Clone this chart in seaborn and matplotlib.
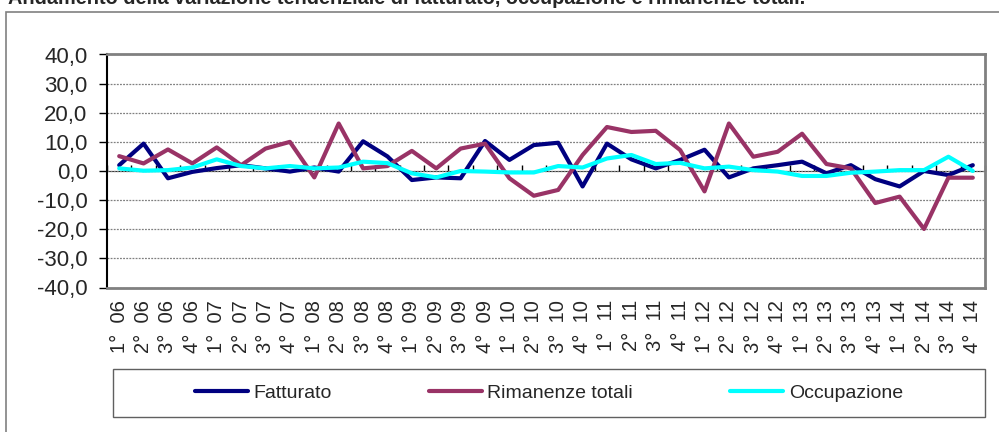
import numpy as np
import pandas as pd
import matplotlib
matplotlib.use("Agg")
import matplotlib.pyplot as plt
from matplotlib.patches import Rectangle
from matplotlib.ticker import FuncFormatter, FixedLocator
import seaborn as sns

quarters = ["1° 06", "2° 06", "3° 06", "4° 06", "1° 07", "2° 07", "3° 07", "4° 07",
            "1° 08", "2° 08", "3° 08", "4° 08", "1° 09", "2° 09", "3° 09", "4° 09",
            "1° 10", "2° 10", "3° 10", "4° 10", "1° 11", "2° 11", "3° 11", "4° 11",
            "1° 12", "2° 12", "3° 12", "4° 12", "1° 13", "2° 13", "3° 13", "4° 13",
            "1° 14", "2° 14", "3° 14", "4° 14"]

fatturato = [2.0, 9.4, -2.5, -0.3, 1.0, 2.0, 0.9, -0.2, 1.2, -0.2, 10.2, 5.0,
             -3.1, -2.2, -2.5, 10.3, 3.8, 8.9, 9.7, -5.3, 9.4, 4.0, 0.9, 3.8,
             7.3, -2.2, 0.9, 2.0, 3.2, -0.8, 2.0, -2.8, -5.3, 0.0, -1.4, 2.0]

rimanenze = [5.1, 2.6, 7.4, 2.6, 8.1, 2.0, 7.7, 10.0, -2.2, 16.3, 0.9, 1.7,
             6.9, 0.9, 7.7, 9.4, -2.5, -8.5, -6.5, 5.5, 15.1, 13.4, 13.8, 7.2,
             -7.0, 16.3, 4.9, 6.6, 12.8, 2.4, 0.9, -11.0, -8.8, -19.9, -2.3, -2.3]

occupazione = [0.9, 0.1, 0.3, 1.2, 4.0, 1.7, 0.9, 1.7, 0.9, 1.2, 3.2, 2.7,
               -0.8, -2.2, 0.0, -0.2, -0.5, -0.5, 1.7, 1.2, 4.3, 5.5, 2.4, 2.8,
               0.9, 1.5, 0.3, -0.2, -1.7, -1.7, -0.6, -0.2, 0.3, 0.3, 4.9, 0.0]

series_names = ["Fatturato", "Rimanenze totali", "Occupazione"]
colors = ["#000080", "#993366", "#00FFFF"]
y_ticks = [-40, -30, -20, -10, 0, 10, 20, 30, 40]

sns.set_style("white")
plt.rcParams["font.family"] = ["Liberation Sans", "DejaVu Sans"]

n = len(quarters)
df = pd.DataFrame({
    "pos": list(range(n)) * 3,
    "value": fatturato + rimanenze + occupazione,
    "serie": [series_names[0]] * n + [series_names[1]] * n + [series_names[2]] * n,
})

W, H = 999, 432
fig = plt.figure(figsize=(W / 100, H / 100), dpi=100)
ax = fig.add_axes([107 / W, 1 - 287.5 / H, (985 - 107) / W, (287.5 - 54.5) / H])

sns.lineplot(data=df, x="pos", y="value", hue="serie", hue_order=series_names,
             palette=colors, linewidth=3.0, ax=ax, legend=False, sort=False,
             solid_capstyle="round")

ax.set_xlim(-0.5, n - 0.5)
ax.set_ylim(-40, 40)
ax.set_xlabel("")
ax.set_ylabel("")

ax.yaxis.set_major_locator(FixedLocator(y_ticks))
ax.yaxis.set_major_formatter(FuncFormatter(lambda v, p: f"{v:.1f}".replace(".", ",")))
ax.tick_params(axis="y", left=True, length=6, width=1, color="black",
               labelsize=16, pad=8, direction="out")
ax.set_xticks(range(n))
ax.set_xticklabels([q.replace(" ", "  ") for q in quarters], rotation=90, fontsize=14.5)
ax.tick_params(axis="x", length=0, pad=9)

ax.grid(axis="y", linestyle=(0, (1.5, 1)), color="#808080", linewidth=0.9)
ax.grid(axis="x", visible=False)

for side in ["top", "right", "bottom"]:
    ax.spines[side].set_visible(True)
    ax.spines[side].set_color("#808080")
    ax.spines[side].set_linewidth(2)
ax.spines["left"].set_color("black")
ax.spines["left"].set_linewidth(1.5)

# zero axis with category boundary ticks
sec = ax.secondary_xaxis(0.5)
sec.set_xticks(np.arange(-0.5, n, 1.0))
sec.set_xticklabels([])
sec.tick_params(axis="x", length=4, width=1, color="black", direction="out")
sec.spines["bottom"].set_color("black")
sec.spines["bottom"].set_linewidth(1.2)
ax.set_zorder(1)

# outer chart border
fig.patches.append(Rectangle((6 / W, -0.05), 1.1, 1 - 12 / H + 0.05, transform=fig.transFigure,
                             fill=False, edgecolor="#808080", linewidth=1.2))

# title (partly cut off at top, as in the reference)
fig.text(8 / W, 1 - 4.5 / H,
         "Andamento della variazione tendenziale di fatturato, occupazione e rimanenze totali.",
         fontsize=14.3, fontweight="bold", ha="left", va="baseline")

# legend box
lx0, lx1, ly0, ly1 = 113, 985, 369, 417
fig.patches.append(Rectangle((lx0 / W, 1 - ly1 / H), (lx1 - lx0) / W, (ly1 - ly0) / H,
                             transform=fig.transFigure, fill=False,
                             edgecolor="#606060", linewidth=1.0))
handles = [plt.Line2D([], [], color=c, linewidth=3.0, solid_capstyle="round") for c in colors]
fig.legend(handles, series_names, loc="center",
           bbox_to_anchor=((lx0 + lx1) / 2 / W, 1 - (ly0 + ly1) / 2 / H),
           ncol=3, frameon=False, fontsize=14, handlelength=2.7,
           handletextpad=0.3, columnspacing=5.0)

fig.savefig("out.png", dpi=100)
